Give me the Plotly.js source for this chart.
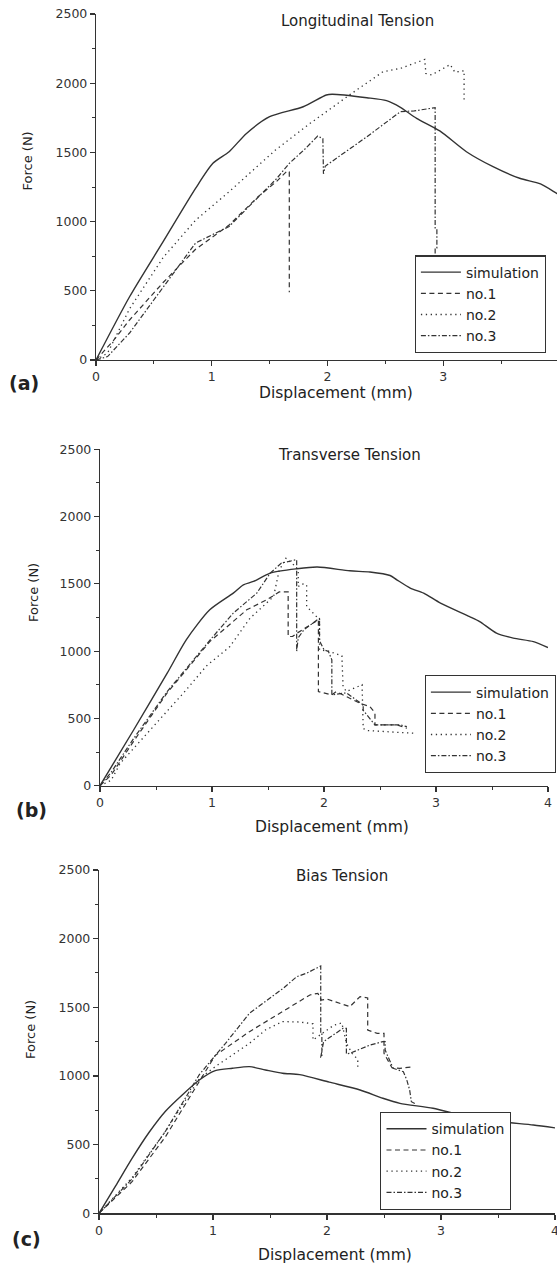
<!DOCTYPE html>
<html>
<head>
<meta charset="utf-8">
<script src="https://cdn.plot.ly/plotly-3.0.1.min.js"></script>
<style>html,body{margin:0;padding:0;overflow:hidden;background:#fff}#chart{width:560px;height:1268px}</style>
</head>
<body>
<div id="chart"></div>
<script>
// ---------- data ----------
const seriesNames = ["simulation", "no.1", "no.2", "no.3"];
const panelTitles = ["Longitudinal Tension", "Transverse Tension", "Bias Tension"];
const panelLabels = ["(a)", "(b)", "(c)"];
const xTickVals = [0, 1, 2, 3, 4];
const yTickVals = [0, 500, 1000, 1500, 2000, 2500];

// (a) Longitudinal
const simA_x = [0,0.29,0.58,0.86,1.01,1.15,1.30,1.50,1.79,1.99,2.04,2.34,2.51,2.63,2.77,2.97,3.20,3.43,3.66,3.84,3.98,4.0];
const simA_y = [0,457,855,1240,1421,1505,1637,1758,1830,1915,1920,1895,1874,1826,1746,1655,1505,1397,1313,1272,1204,1195];
const no1A_x = [0,0.15,0.29,0.58,0.86,1.15,1.40,1.56,1.65,1.67,1.67];
const no1A_y = [0,140,289,560,800,975,1180,1290,1365,1360,490];
const no2A_x = [0,0.1,0.29,0.58,0.86,1.15,1.55,1.85,2.05,2.19,2.48,2.63,2.71,2.84,2.85,2.90,3.06,3.10,3.18,3.18];
const no2A_y = [0,50,370,740,1010,1216,1517,1710,1830,1915,2083,2107,2131,2172,2070,2060,2135,2080,2090,1880];
const no3A_x = [0,0.1,0.29,0.58,0.86,1.15,1.40,1.56,1.67,1.80,1.915,1.96,1.965,1.98,2.34,2.63,2.75,2.93,2.93,2.945,2.945,2.93,2.93];
const no3A_y = [0,25,195,530,845,965,1180,1310,1421,1520,1618,1600,1345,1400,1613,1794,1800,1823,950,945,810,810,380];

// (b) Transverse
const simB_x = [0,0.3,0.6,0.77,0.98,1.19,1.28,1.37,1.52,1.76,1.94,2.23,2.41,2.59,2.65,2.77,2.89,3.04,3.3,3.39,3.54,3.69,3.87,4.0];
const simB_y = [0,414,836,1084,1307,1431,1493,1518,1580,1612,1625,1597,1588,1562,1530,1469,1431,1357,1257,1220,1134,1097,1071,1027];
const no1B_x = [0,0.1,0.3,0.6,0.98,1.31,1.49,1.6,1.68,1.68,1.72,1.76,1.95,1.95,2.07,2.11,2.32,2.41,2.455,2.455,2.5,2.65,2.74];
const no1B_y = [0,80,330,690,1071,1307,1382,1440,1440,1108,1110,1134,1233,699,675,699,613,588,541,452,452,452,427];
const no2B_x = [0,0.1,0.18,0.45,0.77,0.95,1.16,1.34,1.55,1.6,1.66,1.72,1.77,1.77,1.80,1.845,1.845,1.93,1.96,1.96,2.04,2.16,2.17,2.2,2.34,2.35,2.38,2.8];
const no2B_y = [0,40,166,414,712,890,1034,1245,1406,1600,1690,1650,1600,1480,1500,1493,1332,1260,1240,1010,1000,965,736,700,750,426,410,390];
const no3B_x = [0,0.1,0.3,0.6,0.98,1.19,1.4,1.52,1.62,1.75,1.756,1.756,1.77,1.82,1.96,1.96,2.0,2.04,2.07,2.07,2.2,2.35,2.35,2.455,2.57,2.68,2.74];
const no3B_y = [0,100,350,700,1080,1283,1431,1580,1655,1680,1680,1000,1100,1158,1245,1076,1010,997,935,675,690,600,560,452,452,452,439];

// (c) Bias
const simC_x = [0,0.146,0.29,0.44,0.585,0.73,0.88,1.02,1.17,1.32,1.46,1.61,1.76,2.02,2.29,2.49,2.64,2.93,3.23,3.52,3.81,4.0];
const simC_y = [0,200,400,590,745,862,971,1039,1056,1068,1044,1020,1010,955,898,838,801,765,704,667,643,622];
const no1C_x = [0,0.29,0.585,0.88,1.02,1.32,1.59,1.73,1.85,1.92,1.95,2.0,2.2,2.29,2.357,2.357,2.44,2.50,2.50,2.57,2.64,2.76];
const no1C_y = [0,230,560,960,1150,1323,1459,1530,1590,1602,1553,1560,1505,1578,1568,1335,1310,1311,1165,1060,1056,1068];
const no2C_x = [0,0.29,0.585,0.88,1.02,1.17,1.32,1.46,1.61,1.76,1.877,1.877,2.06,2.13,2.17,2.22,2.27,2.27];
const no2C_y = [0,260,600,980,1068,1153,1238,1335,1396,1393,1380,1262,1370,1386,1240,1165,1120,1040];
const no3C_x = [0,0.29,0.585,0.88,1.11,1.32,1.617,1.734,1.82,1.945,1.945,1.955,1.955,1.945,1.97,2.14,2.17,2.17,2.20,2.38,2.49,2.51,2.51,2.55,2.58,2.67,2.70,2.725,2.74,2.77];
const no3C_y = [0,250,600,1010,1238,1457,1639,1723,1748,1801,1307,1307,1137,1137,1250,1347,1347,1161,1165,1226,1250,1250,1189,1117,1056,1031,971,898,813,800];

// ---------- layout helpers ----------
const W = 560, H = 1268;
const fx = p => p / W;
const fy = p => 1 - p / H;
const FONT = "DejaVu Sans, Liberation Sans, Arial, sans-serif";
const INK = "#333";

const styles = [
  {dash: "solid", width: 1.4, shape: "spline"},
  {dash: "5px,3.5px", width: 1.2, shape: "linear"},
  {dash: "1.3px,3.6px", width: 1.3, shape: "linear"},
  {dash: "5px,2px,1.5px,2px", width: 1.2, shape: "linear"}
];

const panels = [
  {xs: [simA_x, no1A_x, no2A_x, no3A_x], ys: [simA_y, no1A_y, no2A_y, no3A_y],
   xd: [96, 559], yd: [360, 14], leg: [545.7, 353.3],
   title: [357, 21], xt: [336, 393], yt: [27.5, 161], lab: [24, 383]},
  {xs: [simB_x, no1B_x, no2B_x, no3B_x], ys: [simB_y, no1B_y, no2B_y, no3B_y],
   xd: [100, 548], yd: [785.7, 449.3], leg: [555.7, 773.3],
   title: [349, 455], xt: [332, 827], yt: [33, 593], lab: [31, 810]},
  {xs: [simC_x, no1C_x, no2C_x, no3C_x], ys: [simC_y, no1C_y, no2C_y, no3C_y],
   xd: [99, 555], yd: [1213.3, 870], leg: [511.3, 1210],
   title: [342, 876], xt: [335, 1255], yt: [30, 1030], lab: [26, 1239]}
];

const traces = [];
const layout = {
  width: W, height: H,
  margin: {l: 0, r: 0, t: 0, b: 0},
  paper_bgcolor: "#fff", plot_bgcolor: "#fff",
  showlegend: true,
  annotations: []
};

panels.forEach((p, i) => {
  const sfx = i === 0 ? "" : String(i + 1);
  const legKey = "legend" + sfx;
  for (let s = 0; s < 4; s++) {
    traces.push({
      type: "scatter", mode: "lines",
      x: p.xs[s], y: p.ys[s],
      name: seriesNames[s],
      xaxis: "x" + sfx, yaxis: "y" + sfx,
      legend: legKey,
      line: {color: INK, width: styles[s].width, dash: styles[s].dash, shape: styles[s].shape, smoothing: 0.7},
      hoverinfo: "skip"
    });
  }
  const axCommon = {
    showline: true, linecolor: INK, linewidth: 1.2,
    ticks: "outside", ticklen: 5, tickwidth: 1.2, tickcolor: INK,
    showgrid: false, zeroline: false, fixedrange: true,
    tickfont: {family: FONT, size: 12.5, color: INK}
  };
  layout["xaxis" + sfx] = Object.assign({}, axCommon, {
    domain: [fx(p.xd[0]), fx(p.xd[1])], range: [0, 4],
    anchor: "y" + sfx, tickvals: xTickVals,
    minor: {tickvals: [0.5, 1.5, 2.5, 3.5], ticks: "outside", ticklen: 3, tickwidth: 1, tickcolor: INK, showgrid: false}
  });
  layout["yaxis" + sfx] = Object.assign({}, axCommon, {
    domain: [fy(p.yd[0]), fy(p.yd[1])], range: [0, 2500],
    anchor: "x" + sfx, tickvals: yTickVals,
    minor: {tickvals: [250, 750, 1250, 1750, 2250], ticks: "outside", ticklen: 3, tickwidth: 1, tickcolor: INK, showgrid: false}
  });
  layout[legKey] = {
    x: fx(p.leg[0]), xanchor: "right", y: fy(p.leg[1]), yanchor: "bottom",
    bgcolor: "#fff", bordercolor: INK, borderwidth: 1.2,
    font: {family: FONT, size: 14, color: "#222"},
    itemwidth: 40,
    tracegroupgap: 0, itemclick: false, itemdoubleclick: false
  };
  layout.annotations.push(
    {text: panelTitles[i], xref: "paper", yref: "paper", x: fx(p.title[0]), y: fy(p.title[1]),
     xanchor: "center", yanchor: "middle", showarrow: false, font: {family: FONT, size: 15, color: "#222"}},
    {text: "Displacement (mm)", xref: "paper", yref: "paper", x: fx(p.xt[0]), y: fy(p.xt[1]),
     xanchor: "center", yanchor: "middle", showarrow: false, font: {family: FONT, size: 15.5, color: "#222"}},
    {text: "Force (N)", xref: "paper", yref: "paper", x: fx(p.yt[0]), y: fy(p.yt[1]), textangle: -90,
     xanchor: "center", yanchor: "middle", showarrow: false, font: {family: FONT, size: 13, color: "#222"}},
    {text: "<b>" + panelLabels[i] + "</b>", xref: "paper", yref: "paper", x: fx(p.lab[0]), y: fy(p.lab[1]),
     xanchor: "center", yanchor: "middle", showarrow: false, font: {family: FONT, size: 19, color: "#222"}}
  );
});

Plotly.newPlot("chart", traces, layout, {displayModeBar: false, staticPlot: true});
</script>
</body>
</html>
